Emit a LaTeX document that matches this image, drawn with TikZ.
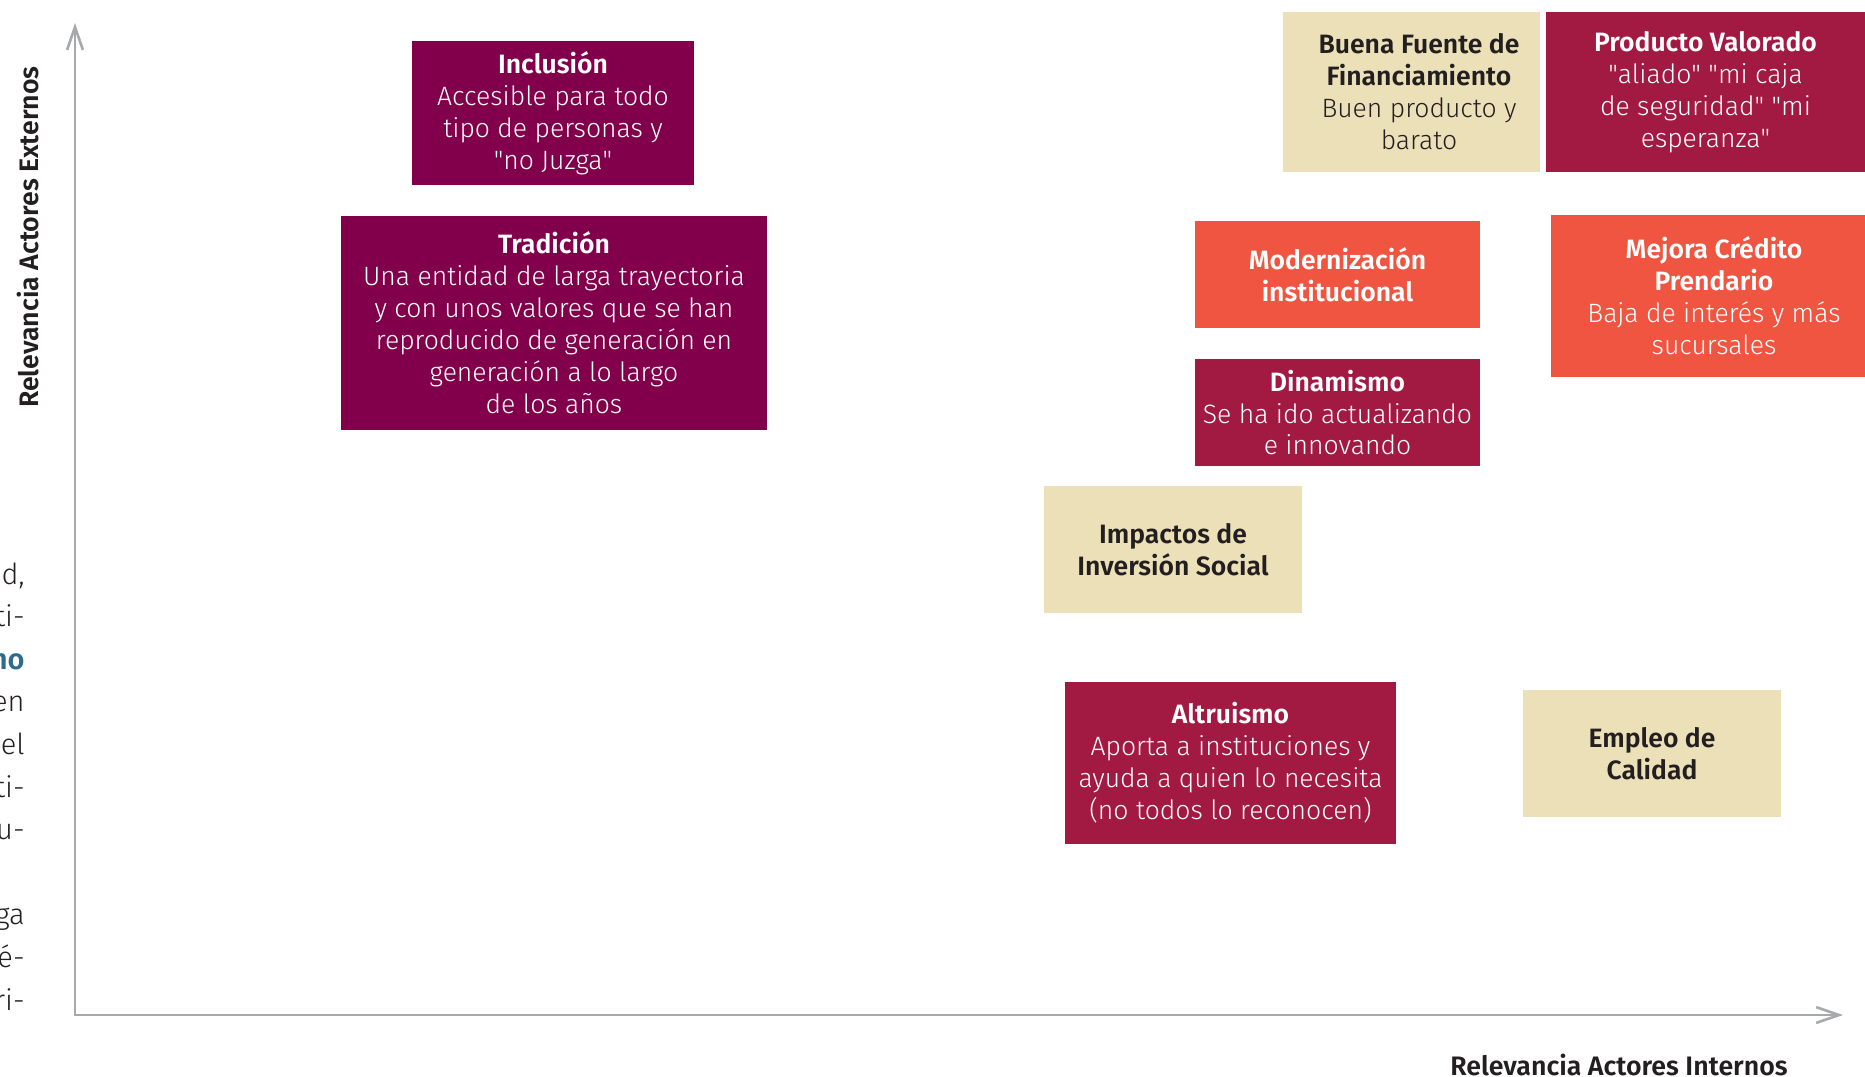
\documentclass[tikz,border=0pt]{standalone}
\usepackage{fontspec}
\setmainfont{Fira Sans}[UprightFont={* Light}, BoldFont={* SemiBold}]
\usepackage{tikz}
\usetikzlibrary{
  arrows.meta,
  positioning
}

\definecolor{colMorado}{RGB}{130,0,75}
\definecolor{colGranate}{RGB}{162,26,66}
\definecolor{colNaranja}{RGB}{240,85,65}
\definecolor{colCrema}{RGB}{236,224,184}
\definecolor{colTinta}{RGB}{35,31,32}
\definecolor{colGris}{RGB}{167,169,172}
\definecolor{colAzul}{RGB}{45,108,140}

% comillas rectas (sin el mapeo tex-text)
\font\rectafont="Fira Sans Light" at 15.1pt
\newcommand{\comillas}{{\rectafont"}}

\begin{document}
\begin{tikzpicture}[
      x=0.02cm, y=-0.02cm,
      caja/.style={rectangle, inner sep=0pt, align=center, text=white,
                   font=\fontsize{15.1}{18.2}\selectfont},
      morada/.style={caja, fill=colMorado},
      granate/.style={caja, fill=colGranate},
      naranja/.style={caja, fill=colNaranja},
      crema/.style={caja, fill=colCrema, text=colTinta},
      eje/.style={line width=1.5pt, colGris,
                  {Straight Barb[length=13pt, width=9pt]}-{Straight Barb[length=13pt, width=9pt]}},
      rotulo/.style={inner sep=0pt, text=colTinta,
                     font=\fontsize{15.2}{18}\selectfont\bfseries},
      fragmento/.style={inner sep=0pt, text=colTinta,
                        font=\fontsize{16.5}{20}\selectfont}
  ]
      \path[use as bounding box] (0,0) rectangle (1865,1076);

      % Ejes
      \coordinate (ytope) at (75,23);
      \coordinate (xfin)  at (1843,1015);
      \draw[eje] (ytope) |- (xfin);

      \node[rotulo, rotate=90, anchor=base] (ejey) at (38,237) {Relevancia Actores Externos};
      \node[rotulo, anchor=base] (ejex) at (1619,1075) {Relevancia Actores Internos};

      % Texto cortado a la izquierda
      \foreach \yy/\txt [count=\i] in {584/{d,}, 626.6/{ti-}, 669.2/{\textbf{\color{colAzul}no}},
                                       711.8/{en}, 754.4/{el}, 797/{ti-}, 839.6/{u-},
                                       924.8/{ga}, 967.4/{é-}, 1010/{ri-}}
          \node[fragmento, anchor=base east] (frag\i) at (25,\yy) {\txt};

      % Cuadrante izquierdo
      \node[morada, minimum width=5.64cm, minimum height=2.90cm] (inclusion) at (553,113) {
          \textbf{Inclusión}\\
          Accesible para todo\\
          tipo de personas y\\
          \comillas{}no Juzga\comillas
      };
      \node[morada, minimum width=8.52cm, minimum height=4.28cm] (tradicion) at (554,323) {
          \textbf{Tradición}\\
          Una entidad de larga trayectoria\\
          y con unos valores que se han\\
          reproducido de generación en\\
          generación a lo largo\\
          de los años
      };

      % Cuadrante derecho
      \node[crema, minimum width=5.14cm, minimum height=3.20cm] (fuente) at (1411.5,92) {};
      \node[caja, text=colTinta] (fuentetxt) at (1419,92) {
          \textbf{Buena Fuente de}\\
          \textbf{Financiamiento}\\
          Buen producto y\\
          barato
      };
      \node[granate, minimum width=6.38cm, minimum height=3.20cm] (producto) at (1705.5,92) {
          \textbf{Producto Valorado}\\
          \comillas{}aliado\comillas{} \comillas{}mi caja\\
          de seguridad\comillas{} \comillas{}mi\\
          esperanza\comillas
      };
      \node[naranja, minimum width=5.70cm, minimum height=2.14cm] (moderna) at (1337.5,274.5) {
          \textbf{Modernización}\\
          \textbf{institucional}
      };
      \node[naranja, minimum width=6.28cm, minimum height=3.24cm] (credito) at (1708,296) {};
      \node[caja] (creditotxt) at (1714,296) {
          \textbf{Mejora Crédito}\\
          \textbf{Prendario}\\
          Baja de interés y más\\
          sucursales
      };
      \node[granate, minimum width=5.70cm, minimum height=2.14cm] (dinamismo) at (1337.5,412.5) {
          \textbf{Dinamismo}\\
          Se ha ido actualizando\\
          e innovando
      };
      \node[crema, minimum width=5.16cm, minimum height=2.54cm] (impactos) at (1173,549.5) {
          \textbf{Impactos de}\\
          \textbf{Inversión Social}
      };
      \node[granate, minimum width=6.62cm, minimum height=3.24cm] (altruismo) at (1230.5,763) {
          \textbf{Altruismo}\\
          Aporta a instituciones y\\
          ayuda a quien lo necesita\\
          (no todos lo reconocen)
      };
      \node[crema, minimum width=5.16cm, minimum height=2.54cm] (empleo) at (1652,753.5) {
          \textbf{Empleo de}\\
          \textbf{Calidad}
      };
  \end{tikzpicture}
\end{document}
